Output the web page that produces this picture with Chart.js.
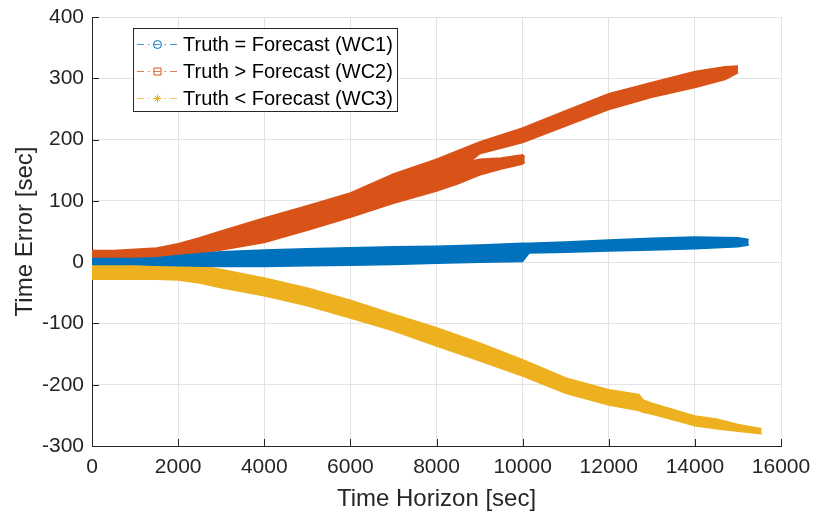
<!DOCTYPE html>
<html>
<head>
<meta charset="utf-8">
<script src="https://cdn.jsdelivr.net/npm/chart.js@4"></script>
<style>
	html, body { margin: 0; padding: 0; background: #fff; }
	#wrap { width: 821px; height: 514px; }
</style>
</head>
<body>
<div id="wrap"><canvas id="chart" width="821" height="514"></canvas></div>
<script>
// Time error vs time horizon - three worst cases, drawn as filled envelopes

const seriesLabels = ['Truth = Forecast (WC1)', 'Truth > Forecast (WC2)', 'Truth < Forecast (WC3)'];
const seriesColors = ['#0072BD', '#D95319', '#EDB120'];

const xTicks = [0, 2000, 4000, 6000, 8000, 10000, 12000, 14000, 16000];
const yTicks = [-300, -200, -100, 0, 100, 200, 300, 400];

// WC1 envelope (blue)
const wc1X     = [0, 500, 1000, 1500, 2000, 3000, 4000, 5000, 6000, 7000, 8000, 9000, 10000, 10150, 11000, 12000, 13000, 14000, 15000, 15250];
const wc1Upper = [6, 6, 6, 7, 11, 17, 20, 22, 23.5, 25, 26, 28, 31, 31, 33, 36, 39, 41, 40, 37];
const wc1Lower = [-4, -4, -4, -5, -6, -7, -7, -6, -5, -4, -2, 0, 1, 15, 16, 18, 20, 22, 25, 28];

// WC2 envelope (orange), main band plus the lower branch that splits off near 8800 s
const wc2X     = [0, 500, 1000, 1500, 2000, 2500, 3000, 4000, 5000, 6000, 7000, 8000, 9000, 10000, 11000, 12000, 13000, 14000, 14700, 15000];
const wc2Upper = [19, 19, 21, 23, 30, 40, 51, 72, 92, 113, 144, 168, 196, 219, 247, 275, 293, 311, 319, 320];
const wc2Lower = [5, 5, 5, 6, 10, 15, 20, 32, 52, 73, 96, 116, 177, 195, 222, 249, 269, 285, 298, 309];
const wc2BranchX     = [8000, 8500, 9000, 9500, 10000, 10050];
const wc2BranchUpper = [140, 160, 168, 170, 175, 172];
const wc2BranchLower = [116, 128, 142, 152, 160, 163];

// WC3 envelope (yellow)
const wc3X     = [0, 500, 1000, 1500, 2000, 2500, 3000, 4000, 5000, 6000, 7000, 8000, 9000, 10000, 11000, 12000, 12700, 12800, 13000, 14000, 14500, 15000, 15550];
const wc3Upper = [3, 2, 1, 0, -1, -6, -12, -26, -42, -62, -85, -107, -132, -159, -189, -208, -216, -225, -230, -251, -256, -265, -272];
const wc3Lower = [-28, -28, -28, -28, -29, -34, -42, -55, -71, -91, -112, -137, -161, -186, -214, -233, -242, -245, -248, -267, -272, -276, -280];

function pts(xs, ys) {
	return xs.map((x, i) => ({ x: x, y: ys[i] }));
}

function band(xs, up, lo, color, order) {
	return [
		{ data: pts(xs, up), borderColor: color, backgroundColor: color, borderWidth: 1.5, pointRadius: 0, fill: '+1', order: order },
		{ data: pts(xs, lo), borderColor: color, backgroundColor: color, borderWidth: 1.5, pointRadius: 0, fill: false, order: order }
	];
}

const FONT = "'Liberation Sans', Arial, Helvetica, sans-serif";
const AXIS = '#262626';

// inward tick marks, MATLAB style
const tickPlugin = {
	id: 'inTicks',
	beforeDatasetsDraw(chart) {
		const ctx = chart.ctx;
		const a = chart.chartArea;
		const xs = chart.scales.x, ys = chart.scales.y;
		ctx.save();
		ctx.strokeStyle = AXIS;
		ctx.lineWidth = 1;
		ctx.beginPath();
		xTicks.forEach(v => {
			const px = Math.round(xs.getPixelForValue(v)) + 0.5;
			ctx.moveTo(px, a.bottom);
			ctx.lineTo(px, a.bottom - 7);
		});
		yTicks.forEach(v => {
			const py = Math.round(ys.getPixelForValue(v)) + 0.5;
			ctx.moveTo(a.left, py);
			ctx.lineTo(a.left + 7, py);
		});
		ctx.stroke();
		ctx.restore();
	}
};

function drawMarker(ctx, kind, x, y, color) {
	ctx.save();
	ctx.strokeStyle = color;
	ctx.lineWidth = 1;
	ctx.setLineDash([]);
	ctx.beginPath();
	if (kind === 'circle') {
		ctx.arc(x, y, 4, 0, Math.PI * 2);
	} else if (kind === 'square') {
		ctx.rect(x - 3.5, y - 3.5, 7, 7);
	} else {
		const r = 4;
		ctx.moveTo(x - r, y); ctx.lineTo(x + r, y);
		ctx.moveTo(x, y - r); ctx.lineTo(x, y + r);
		ctx.moveTo(x - r * 0.7, y - r * 0.7); ctx.lineTo(x + r * 0.7, y + r * 0.7);
		ctx.moveTo(x - r * 0.7, y + r * 0.7); ctx.lineTo(x + r * 0.7, y - r * 0.7);
	}
	ctx.stroke();
	ctx.restore();
}

// legend box drawn on the canvas
const legendPlugin = {
	id: 'boxLegend',
	afterDraw(chart) {
		const ctx = chart.ctx;
		const markers = ['circle', 'square', 'star'];
		const bx = 133.5, by = 28.5, bw = 264, bh = 83;
		ctx.save();
		ctx.fillStyle = '#fff';
		ctx.fillRect(bx, by, bw, bh);
		ctx.strokeStyle = AXIS;
		ctx.lineWidth = 1;
		ctx.strokeRect(bx, by, bw, bh);
		ctx.font = '20px ' + FONT;
		ctx.textBaseline = 'middle';
		ctx.fillStyle = '#000';
		seriesLabels.forEach((label, i) => {
			const y = Math.round(43.5 + i * 27) + 0.5;
			ctx.save();
			ctx.globalAlpha = 0.75;
			ctx.strokeStyle = seriesColors[i];
			ctx.lineWidth = 1;
			ctx.setLineDash([7, 4, 1.5, 4]);
			ctx.beginPath();
			ctx.moveTo(137, y);
			ctx.lineTo(179, y);
			ctx.stroke();
			ctx.restore();
			drawMarker(ctx, markers[i], 157.5, y, seriesColors[i]);
			ctx.fillText(label, 183, y + 1);
		});
		ctx.restore();
	}
};

new Chart(document.getElementById('chart'), {
	type: 'line',
	data: {
		datasets: [
			...band(wc1X, wc1Upper, wc1Lower, seriesColors[0], 1),
			...band(wc2X, wc2Upper, wc2Lower, seriesColors[1], 3),
			...band(wc2BranchX, wc2BranchUpper, wc2BranchLower, seriesColors[1], 3),
			...band(wc3X, wc3Upper, wc3Lower, seriesColors[2], 2)
		]
	},
	options: {
		responsive: false,
		animation: false,
		devicePixelRatio: 1,
		layout: { padding: { top: 17, right: 40, left: 0, bottom: 0 } },
		plugins: {
			legend: { display: false },
			tooltip: { enabled: false }
		},
		scales: {
			x: {
				type: 'linear',
				min: 0,
				max: 16000,
				afterFit: s => { s.height = 68; },
				afterBuildTicks: s => { s.ticks = xTicks.map(v => ({ value: v })); },
				ticks: { color: AXIS, font: { family: FONT, size: 21 }, padding: 9, maxRotation: 0, callback: v => String(v) },
				grid: { color: '#e3e3e3', drawTicks: false },
				border: { display: true, color: AXIS, width: 1 },
				title: { display: true, text: 'Time Horizon [sec]', color: AXIS, font: { family: FONT, size: 24 }, padding: { top: 3, bottom: 0 } }
			},
			y: {
				min: -300,
				max: 400,
				afterFit: s => { s.width = 92; s.paddingTop = 0; s.paddingBottom = 0; },
				afterBuildTicks: s => { s.ticks = yTicks.map(v => ({ value: v })); },
				ticks: { color: AXIS, font: { family: FONT, size: 21 }, padding: 8, callback: v => String(v) },
				grid: { color: '#e3e3e3', drawTicks: false },
				border: { display: true, color: AXIS, width: 1 },
				title: { display: true, text: 'Time Error [sec]', color: AXIS, font: { family: FONT, size: 24 }, padding: { top: 11, bottom: 0 } }
			}
		}
	},
	plugins: [tickPlugin, legendPlugin]
});
</script>
</body>
</html>
